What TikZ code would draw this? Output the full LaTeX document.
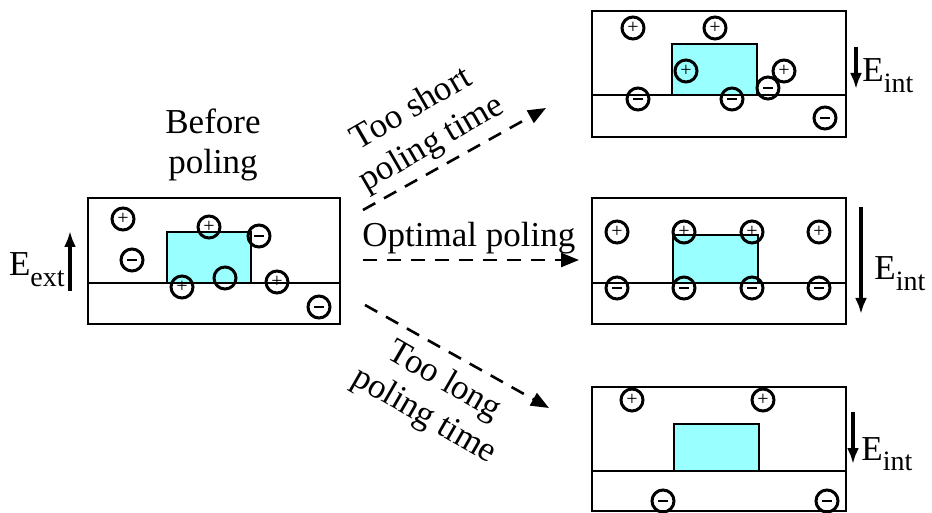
\documentclass[tikz,border=0pt]{standalone}
\usepackage{fontspec}
\setmainfont{Liberation Serif}
\usetikzlibrary{arrows.meta}

\definecolor{filmcyan}{RGB}{153,255,255}
\newcommand{\mns}{\rule{4.6pt}{1.4pt}}
\newcommand{\fieldsub}[1]{\raisebox{-0.3em}{\fontsize{14}{14}\selectfont #1}}

\tikzset{
  panel/.style={line width=0.9pt},
  film/.style={draw, fill=filmcyan, line width=1.4pt},
  charge/.style={draw, circle, line width=1.5pt, minimum size=11pt, inner sep=0pt,
    font=\fontsize{10}{10}\selectfont},
  field/.style={-{Latex[length=8pt,width=6pt]}, line width=1.7pt},
  poling/.style={-{Triangle[length=9pt,width=7pt]}, line width=1.3pt, dash pattern=on 7pt off 5pt},
  lbl/.style={font=\fontsize{17.5}{20}\selectfont, inner sep=0pt}
}

\begin{document}
\begin{tikzpicture}[x=0.5pt,y=-0.5pt]
    \useasboundingbox (0,0) rectangle (932,513);

    % Before poling
    \draw[panel] (88,198) rectangle (340,324);
    \draw[panel] (88,283) -- (340,283);
    \draw[film] (167,232) rectangle (251,283);
    \foreach \x/\y/\s [count=\i from 1] in {123/219/+,132/260/\mns,209/227/+,259/236/\mns,
                                            182/287/+,225/278/{},277/282/+,319/307/\mns} {
        \node[charge] (a\i) at (\x,\y) {\s};
    }
    \node[lbl, align=center] (before) at (213,145) {Before\\poling};
    \coordinate (ext0) at (70,291);
    \coordinate (ext1) at (70,231);
    \draw[field] (ext0) -- (ext1);
    \node[lbl, anchor=base east] (eext) at (65,276) {E\fieldsub{ext}};

    % Too short poling time
    \draw[panel] (592,11) rectangle (846,137);
    \draw[panel] (592,95) -- (846,95);
    \draw[film] (672,44) rectangle (757,95);
    \foreach \x/\y/\s [count=\i from 1] in {633/28/+,715/28/+,686/71/+,784/71/+,
                                            768/88/\mns,638/99/\mns,732/99/\mns,825/118/\mns} {
        \node[charge] (b\i) at (\x,\y) {\s};
    }
    \coordinate (top0) at (856,47);
    \coordinate (top1) at (856,89);
    \draw[field] (top0) -- (top1);
    \node[lbl, anchor=base west] (etop) at (862,82) {E\fieldsub{int}};

    % Optimal poling
    \draw[panel] (592,198) rectangle (846,324);
    \draw[panel] (592,283) -- (846,283);
    \draw[film] (673,235) rectangle (758,283);
    \foreach \x [count=\i from 1] in {617,684,752,819} {
        \node[charge] (cp\i) at (\x,232) {+};
        \node[charge] (cm\i) at (\x,288) {\mns};
    }
    \coordinate (mid0) at (861,207);
    \coordinate (mid1) at (861,314);
    \draw[field] (mid0) -- (mid1);
    \node[lbl, anchor=base west] (emid) at (874,280) {E\fieldsub{int}};

    % Too long poling time
    \draw[panel] (592,387) -- (592,511) -- (846,511) -- (846,387) -- cycle;
    \draw[panel] (592,471) -- (846,471);
    \draw[film] (674,424) rectangle (759,471);
    \foreach \x/\y/\s [count=\i from 1] in {632/400/+,763/400/+,663/501/\mns,827/501/\mns} {
        \node[charge] (d\i) at (\x,\y) {\s};
    }
    \coordinate (bot0) at (853,412);
    \coordinate (bot1) at (853,464);
    \draw[field] (bot0) -- (bot1);
    \node[lbl, anchor=base west] (ebot) at (861,460) {E\fieldsub{int}};

    % Poling arrows
    \coordinate (s1) at (363,210);
    \coordinate (t1) at (546,108);
    \coordinate (s2) at (363,260);
    \coordinate (t2) at (579,260);
    \coordinate (s3) at (365,305);
    \coordinate (t3) at (549,408);
    \draw[poling] (s1) -- (t1);
    \draw[poling] (s2) -- (t2);
    \draw[poling] (s3) -- (t3);
    \node[lbl, align=center, rotate=30] (short) at (422,127) {Too short\\poling time};
    \node[lbl, anchor=base west] (optimal) at (362,247) {Optimal poling};
    \node[lbl, align=center, rotate=-30] (long) at (434,399) {Too long\\poling time};
\end{tikzpicture}
\end{document}
